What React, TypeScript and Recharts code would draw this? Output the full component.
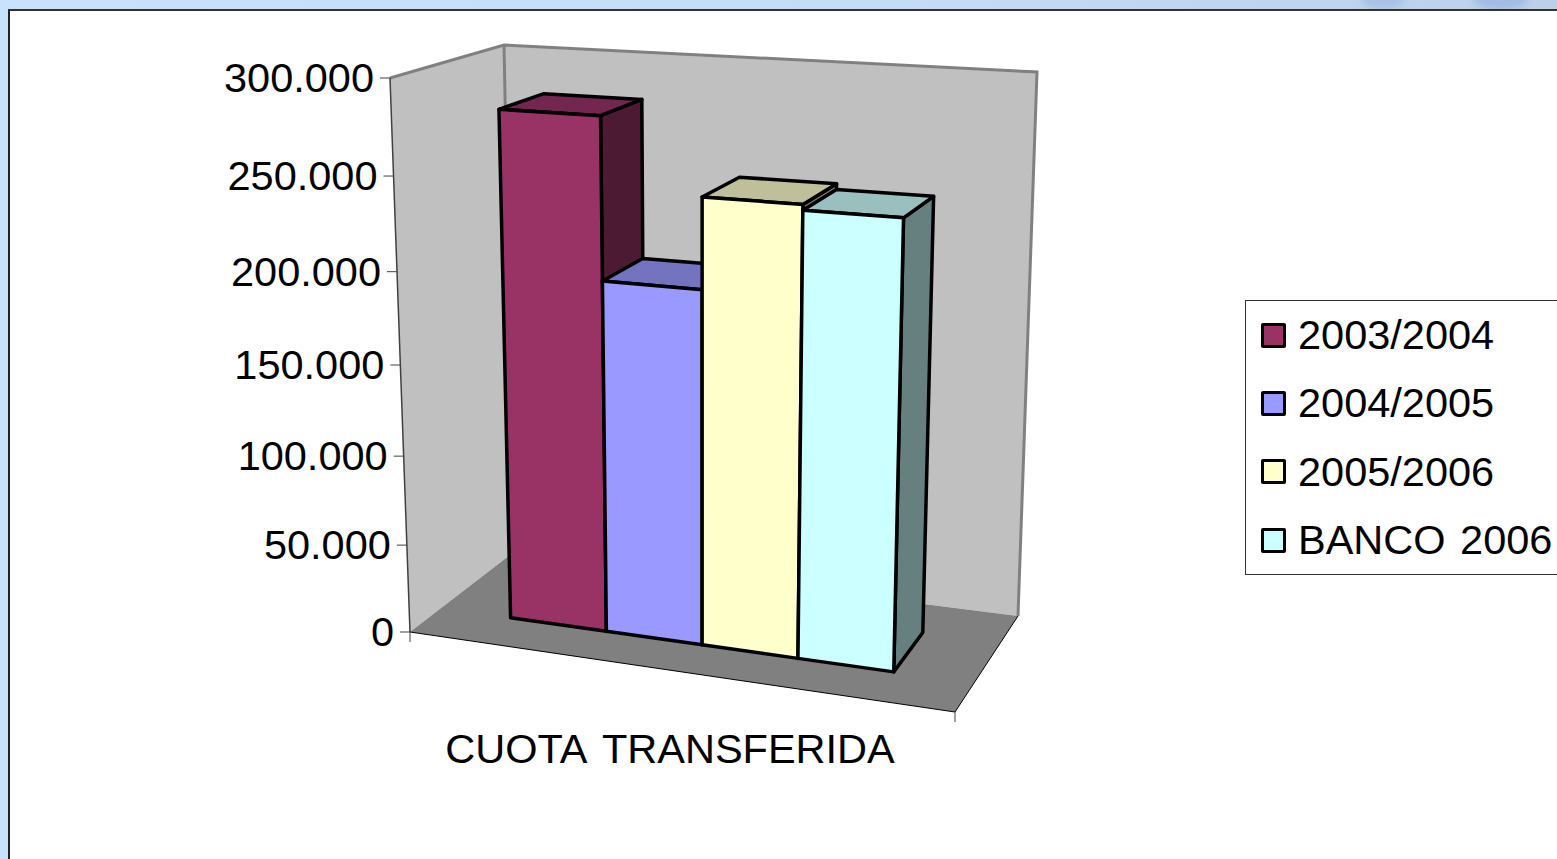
import React from "react";
import { BarChart, Bar, XAxis, YAxis, Legend } from "recharts";

const categories = ["CUOTA TRANSFERIDA"];
const seriesNames = ["2003/2004", "2004/2005", "2005/2006", "BANCO 2006"];
const seriesValues = [281000, 195000, 243000, 240000];
const frontColors = ["#993366", "#9999FF", "#FFFFCC", "#CCFFFF"];
const topColors = ["#732650", "#7373BF", "#BFBF99", "#99BFBF"];
const sideColors = ["#4D1A33", "#4D4D80", "#808066", "#668080"];
const yTicks = [0, 50000, 100000, 150000, 200000, 250000, 300000];

const WIDTH = 1557;
const HEIGHT = 859;
// axes take 1px each, so the plot itself runs 410..955 by 78..632
const MARGIN = { top: 78, left: 409, right: 602, bottom: 226 };
const PLOT_LEFT = 410;
const PLOT_W = 545;
const PLOT_H = 554;
const PLOT_BOTTOM = 632;

// corners of the 3D box as seen on screen
const BOX = {
  bottom: { fl: [410, 632], fr: [955, 712], bl: [514, 552], br: [1018, 616] },
  top: { fl: [390, 78], fr: [972, 113], bl: [504, 45], br: [1037, 72] },
};
const BAR_DEPTH_FRONT = 0.3;
const BAR_DEPTH_BACK = 0.72;
const PERSPECTIVE = 1.075;

const bilinear = (c: any, u: number, d: number) =>
  [0, 1].map((i) => {
    const front = c.fl[i] + (c.fr[i] - c.fl[i]) * u;
    const back = c.bl[i] + (c.br[i] - c.bl[i]) * u;
    return front + (back - front) * d;
  });

// u across the categories, v up the value axis, d into the depth (all 0..1)
function project(u: number, v: number, d: number) {
  const t = v / (v + (1 - v) * PERSPECTIVE);
  const b = bilinear(BOX.bottom, u, d);
  const a = bilinear(BOX.top, u, d);
  return [b[0] + (a[0] - b[0]) * t, b[1] + (a[1] - b[1]) * t];
}

const pts = (list: number[][]) => list.map((p) => p.join(",")).join(" ");
const toU = (x: number) => (x - PLOT_LEFT) / PLOT_W;
const toV = (y: number) => (PLOT_BOTTOM - y) / PLOT_H;

function Walls() {
  const { bottom: b, top: t } = BOX;
  return (
    <g>
      <polygon points={pts([b.fl, t.fl, t.bl, b.bl])} fill="#C0C0C0" />
      <polygon points={pts([b.bl, t.bl, t.br, b.br])} fill="#C0C0C0" />
      <polygon points={pts([b.fl, b.bl, b.br, b.fr])} fill="#808080" />
      <polyline points={pts([t.fl, t.bl, t.br, b.br])} fill="none" stroke="#808080" strokeWidth={3} />
      <line x1={t.bl[0]} y1={t.bl[1]} x2={b.bl[0]} y2={b.bl[1]} stroke="#808080" strokeWidth={3} />
      <line x1={t.fl[0]} y1={t.fl[1]} x2={b.fl[0]} y2={b.fl[1]} stroke="#404040" strokeWidth={1.5} />
      <polyline points={pts([b.fl, b.fr, b.br])} fill="none" stroke="#000" strokeWidth={1} />
      <line x1={b.fl[0]} y1={b.fl[1]} x2={b.fl[0]} y2={b.fl[1] + 10} stroke="#404040" strokeWidth={1} />
      <line x1={b.fr[0]} y1={b.fr[1]} x2={b.fr[0]} y2={b.fr[1] + 10} stroke="#404040" strokeWidth={1} />
    </g>
  );
}

function Box3D(props: any) {
  const { x, y, width, height } = props;
  const i = props.seriesIndex;
  const u0 = toU(x);
  const u1 = toU(x + width);
  const v = toV(y);
  const v0 = toV(y + height);
  const d0 = BAR_DEPTH_FRONT;
  const d1 = BAR_DEPTH_BACK;
  const face = (list: number[][], fill: string) => (
    <polygon points={pts(list)} fill={fill} stroke="#000" strokeWidth={3.5} strokeLinejoin="round" />
  );
  return (
    <g>
      {face([project(u1, v0, d0), project(u1, v, d0), project(u1, v, d1), project(u1, v0, d1)], sideColors[i])}
      {face([project(u0, v, d0), project(u0, v, d1), project(u1, v, d1), project(u1, v, d0)], topColors[i])}
      {face([project(u0, v0, d0), project(u0, v, d0), project(u1, v, d0), project(u1, v0, d0)], frontColors[i])}
    </g>
  );
}

function ValueTick({ y, payload }: any) {
  const [px, py] = project(0, toV(y), 0);
  return (
    <g>
      <line x1={px - 10} y1={py} x2={px} y2={py} stroke="#404040" strokeWidth={1} />
      <text x={px - 16} y={py + 14} textAnchor="end" fontSize={41.5} fontFamily="Liberation Sans" fill="#000">
        {String(payload.value).replace(/\B(?=(\d{3})+$)/g, ".")}
      </text>
    </g>
  );
}

function CategoryTick({ x, payload }: any) {
  return (
    <text x={x - 6} y={763} textAnchor="middle" fontSize={41.5} wordSpacing={6} fontFamily="Liberation Sans" fill="#000">
      {payload.value}
    </text>
  );
}

function LegendBox({ payload }: any) {
  return (
    <div
      style={{
        width: 330,
        height: 275,
        boxSizing: "border-box",
        border: "1px solid #333",
        background: "#fff",
        fontFamily: "Liberation Sans",
        fontSize: 41.5,
        wordSpacing: 3,
      }}
    >
      {(payload ?? []).map((entry: any) => (
        <div key={entry.value} style={{ display: "flex", alignItems: "center", height: 68.3, paddingLeft: 15 }}>
          <span
            style={{
              width: 19,
              height: 19,
              background: entry.color,
              border: "3px solid #000",
              borderRadius: 2,
              marginRight: 12,
            }}
          />
          <span style={{ whiteSpace: "nowrap" }}>{entry.value}</span>
        </div>
      ))}
    </div>
  );
}

const row: Record<string, string | number> = { name: categories[0] };
seriesNames.forEach((s, i) => {
  row[s] = seriesValues[i];
});
const data = [row];

export default function App() {
  return (
    <div
      style={{
        position: "absolute",
        left: 0,
        top: 0,
        width: WIDTH,
        height: HEIGHT,
        overflow: "hidden",
        background: "linear-gradient(90deg, #C8E1FC 0%, #C6DDF8 50%, #BCD0EA 100%)",
      }}
    >
      <div style={{ position: "absolute", left: 1362, top: -10, width: 42, height: 20, borderRadius: "50%", background: "#A9C2E6", filter: "blur(3px)" }} />
      <div style={{ position: "absolute", left: 1474, top: -10, width: 54, height: 20, borderRadius: "50%", background: "#A3BCE4", filter: "blur(3px)" }} />
      <div
        style={{
          position: "absolute",
          left: 8,
          top: 9,
          width: WIDTH,
          height: HEIGHT,
          background: "#fff",
          borderTop: "2px solid #333",
          borderLeft: "2px solid #222",
          boxSizing: "border-box",
        }}
      />
      <div style={{ position: "absolute", left: 0, top: 0 }}>
        <BarChart width={WIDTH} height={HEIGHT} data={data} margin={MARGIN} barCategoryGap={0} barGap={0} style={{ overflow: "visible" }}>
          <Walls />
          <XAxis
            dataKey="name"
            height={1}
            axisLine={false}
            tickLine={false}
            padding={{ left: 71, right: 84 }}
            tick={CategoryTick}
            interval={0}
          />
          <YAxis
            width={1}
            domain={[0, 300000]}
            ticks={yTicks}
            interval={0}
            axisLine={false}
            tickLine={false}
            tick={ValueTick}
          />
          <Legend
            layout="vertical"
            align="center"
            verticalAlign="middle"
            content={LegendBox}
            wrapperStyle={{ position: "absolute", left: 1245, top: 300, width: 330, bottom: "auto", right: "auto" }}
          />
          {seriesNames.map((s, i) => (
            <Bar
              key={s}
              dataKey={s}
              fill={frontColors[i]}
              isAnimationActive={false}
              shape={(p: any) => <Box3D {...p} seriesIndex={i} />}
            />
          ))}
        </BarChart>
      </div>
    </div>
  );
}
